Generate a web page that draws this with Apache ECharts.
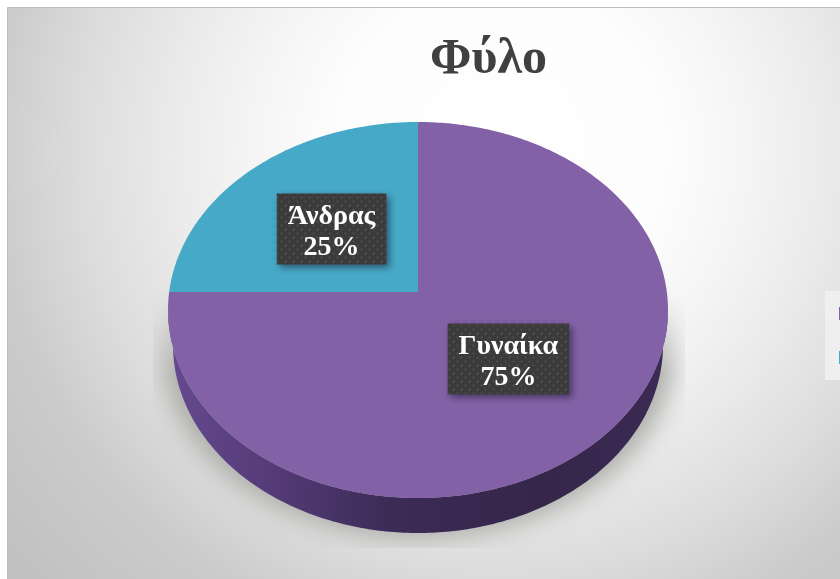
<!DOCTYPE html>
<html>
<head>
<meta charset="utf-8">
<title>Φύλο</title>
<script src="https://cdn.jsdelivr.net/npm/echarts@6/dist/echarts.min.js"></script>
<style>
html, body { margin: 0; padding: 0; background: #fff; }
#chart { width: 840px; height: 579px; }
</style>
</head>
<body>
<div id="chart"></div>
<script>
const titleText = 'Φύλο';
const categories = ['Γυναίκα', 'Άνδρας'];
const values = [75, 25];
const colors = ['#8361a6', '#47a9c8'];

const serifFont = '"Liberation Serif", "DejaVu Serif", serif';
const labelFont = 'bold 28px ' + serifFont;
const total = values.reduce((a, b) => a + b, 0);

// Tilted disc: an ellipse seen in perspective, with the slices fanning out from an off-centre apex.
const disc = { cx: 418, cy: 310, rx: 250, ry: 188, apexY: 292, depth: 35, bottomRx: 245 };

// Where the ray at a given share of the full turn (clockwise from the top) meets the rim.
function rimPoint(share) {
  const a = share * Math.PI * 2;
  const dx = Math.sin(a), dy = -Math.cos(a);
  const oy = disc.apexY - disc.cy;
  const A = dx * dx / (disc.rx * disc.rx) + dy * dy / (disc.ry * disc.ry);
  const B = 2 * oy * dy / (disc.ry * disc.ry);
  const C = oy * oy / (disc.ry * disc.ry) - 1;
  const t = (-B + Math.sqrt(B * B - 4 * A * C)) / (2 * A);
  return [disc.cx + dx * t, disc.apexY + dy * t];
}

function dotPattern() {
  const c = document.createElement('canvas');
  c.width = 8; c.height = 8;
  const g = c.getContext('2d');
  g.fillStyle = '#3c3b3b';
  g.fillRect(0, 0, 8, 8);
  g.fillStyle = '#555554';
  [[1, 1], [5, 5]].forEach(([x, y]) => {
    g.beginPath();
    g.arc(x + 0.5, y + 0.5, 0.9, 0, Math.PI * 2);
    g.fill();
  });
  return c;
}
const labelPattern = { image: dotPattern(), repeat: 'repeat' };

function textWidth(text) {
  const g = document.createElement('canvas').getContext('2d');
  g.font = labelFont;
  return g.measureText(text).width;
}

// Blurred cast shadow under the disc: cut off at the sides and bottom, fading out upward.
function castShadow() {
  const c = document.createElement('canvas');
  c.width = 840; c.height = 579;
  const g = c.getContext('2d');
  g.save();
  g.beginPath();
  g.rect(153, 280, 532, 268);
  g.clip();
  g.filter = 'blur(12px)';
  g.fillStyle = '#acaca8';
  g.beginPath();
  g.ellipse(418, 350, 256, 188, 0, 0, Math.PI * 2);
  g.fill();
  g.restore();
  g.globalCompositeOperation = 'destination-in';
  const fade = g.createLinearGradient(0, 285, 0, 375);
  fade.addColorStop(0, 'rgba(0,0,0,0)');
  fade.addColorStop(1, 'rgba(0,0,0,1)');
  g.fillStyle = fade;
  g.fillRect(0, 0, 840, 579);
  return c;
}
const shadowImage = castShadow();

const sideFill = new echarts.graphic.LinearGradient(168, 0, 668, 0, [
  { offset: 0, color: '#654a90' },
  { offset: 0.2, color: '#553b78' },
  { offset: 0.45, color: '#3c2b55' },
  { offset: 0.75, color: '#35264a' },
  { offset: 1, color: '#3b2b55' }
], true);

function renderSlice(params, api) {
  const value = api.value(0), start = api.value(1);
  const from = start / total, to = (start + value) / total;
  const rim = [];
  const steps = Math.ceil((to - from) * 360);
  for (let i = 0; i <= steps; i++) rim.push(rimPoint(from + (to - from) * i / steps));

  const front = rim.filter(p => p[1] >= disc.cy);
  const back = front.map(p => [
    disc.cx + (p[0] - disc.cx) * disc.bottomRx / disc.rx,
    p[1] + disc.depth
  ]).reverse();

  const mid = (from + to) / 2 * Math.PI * 2;
  const lx = disc.cx + 2 + Math.sin(mid) * 125;
  const ly = disc.apexY + 2 - Math.cos(mid) * 92;
  const name = params.seriesName;
  const boxW = textWidth(name) + 22;
  const boxH = 71;

  return {
    type: 'group',
    children: [
      front.length ? {
        type: 'polygon',
        shape: { points: front.concat(back) },
        style: { fill: sideFill }
      } : null,
      {
        type: 'polygon',
        shape: { points: [[disc.cx, disc.apexY]].concat(rim) },
        style: { fill: api.visual('color') }
      },
      {
        type: 'rect',
        z2: 10,
        shape: { x: lx - boxW / 2, y: ly - boxH / 2, width: boxW, height: boxH },
        style: {
          fill: labelPattern,
          shadowBlur: 7, shadowOffsetX: 3, shadowOffsetY: 3,
          shadowColor: 'rgba(20,20,40,0.55)'
        }
      },
      {
        type: 'text',
        z2: 11,
        x: lx, y: ly + 3,
        style: {
          text: name + '\n' + Math.round(value / total * 100) + '%',
          fill: '#ffffff',
          font: labelFont,
          lineHeight: 31,
          align: 'center',
          verticalAlign: 'middle'
        }
      }
    ].filter(Boolean)
  };
}

let running = 0;
const sliceSeries = categories.map((name, i) => {
  const s = {
    type: 'custom',
    name,
    coordinateSystem: 'none',
    silent: true,
    itemStyle: { color: colors[i] },
    data: [[values[i], running]],
    renderItem: renderSlice
  };
  running += values[i];
  return s;
});

const chart = echarts.init(document.getElementById('chart'), null, { renderer: 'canvas' });
chart.setOption({
  animation: false,
  backgroundColor: '#ffffff',
  color: colors,
  title: {
    text: titleText,
    left: 425,
    top: 30,
    textStyle: { fontFamily: serifFont, fontWeight: 'bold', fontSize: 50, color: '#404040' }
  },
  legend: {
    orient: 'vertical',
    left: 825,
    top: 291,
    padding: [16, 20, 16, 14],
    itemWidth: 13,
    itemHeight: 13,
    itemGap: 31,
    icon: 'rect',
    backgroundColor: '#efefef',
    data: categories,
    textStyle: { fontFamily: serifFont, fontSize: 12, color: '#404040' }
  },
  graphic: [{
    type: 'rect',
    z: -10,
    silent: true,
    shape: { x: 7.5, y: 7.5, width: 840, height: 590 },
    style: {
      fill: new echarts.graphic.RadialGradient(500, 150, 650, [
        { offset: 0, color: '#ffffff' },
        { offset: 0.25, color: '#fdfdfd' },
        { offset: 0.377, color: '#f5f5f5' },
        { offset: 0.51, color: '#eaeaea' },
        { offset: 0.65, color: '#dcdcdc' },
        { offset: 0.785, color: '#cbcbcb' },
        { offset: 1, color: '#c0c0c0' }
      ], true),
      stroke: '#bcbcbc',
      lineWidth: 1
    }
  }, {
    type: 'image',
    z: -5,
    silent: true,
    style: { image: shadowImage, x: 0, y: 0, width: 840, height: 579 }
  }],
  series: sliceSeries
});
</script>
</body>
</html>
